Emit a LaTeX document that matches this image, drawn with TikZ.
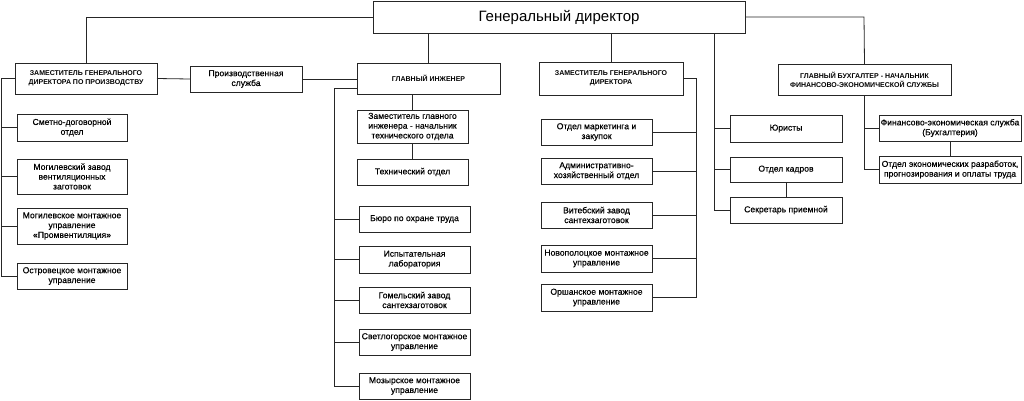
\documentclass[tikz,border=0pt]{standalone}
\usepackage{fontspec}
\setmainfont{Liberation Sans}
\newfontface\semib{Liberation Sans}[FakeBold=0.35]
\usetikzlibrary{calc}
\tikzset{
  every node/.style={inner sep=1pt, outer sep=0pt},
  box/.style={draw=black!85, line width=0.8pt, fill=white, align=center,
    font=\semib\fontsize{8.6}{9.8}\selectfont},
  capbox/.style={box, font=\bfseries\fontsize{7}{9}\selectfont},
  topbox/.style={box, font=\fontsize{15}{17}\selectfont},
  conn/.style={draw=black!85, line width=0.8pt},
}
\begin{document}
\begin{tikzpicture}[x=1pt,y=-1pt]
\useasboundingbox[fill=white] (0,0) rectangle (1024,400);
% top
\node[topbox, minimum width=372, minimum height=32] (GD) at (559,17) {Генеральный директор};
% level 2
\node[capbox, minimum width=142, minimum height=31] (DP) at (86,78.5) {ЗАМЕСТИТЕЛЬ ГЕНЕРАЛЬНОГО\\ДИРЕКТОРА ПО ПРОИЗВОДСТВУ};
\node[box, minimum width=112, minimum height=26] (PS) at (246,79) {Производственная\\служба};
\node[capbox, minimum width=143, minimum height=31] (CE) at (428.5,78.5) {ГЛАВНЫЙ ИНЖЕНЕР};
\node[capbox, minimum width=144, minimum height=33] (DG) at (611,78.5) {ЗАМЕСТИТЕЛЬ ГЕНЕРАЛЬНОГО\\ДИРЕКТОРА};
\node[capbox, minimum width=173, minimum height=31] (CA) at (864.5,79.5) {ГЛАВНЫЙ БУХГАЛТЕР - НАЧАЛЬНИК\\ФИНАНСОВО-ЭКОНОМИЧЕСКОЙ СЛУЖБЫ};
% left column
\node[box, minimum width=110, minimum height=27] (L1) at (72,127.5) {Сметно-договорной\\отдел};
\node[box, minimum width=110, minimum height=35] (L2) at (72,176.5) {Могилевский завод\\вентиляционных\\заготовок};
\node[box, minimum width=110, minimum height=36] (L3) at (72,226) {Могилевское монтажное\\управление\\«Промвентиляция»};
\node[box, minimum width=110, minimum height=26] (L4) at (72,276) {Островецкое монтажное\\управление};
% chief engineer column
\node[box, minimum width=111, minimum height=33] (C1) at (412.5,126.5) {Заместитель главного\\инженера - начальник\\технического отдела};
\node[box, minimum width=111, minimum height=26] (C2) at (412.5,172) {Технический отдел};
\node[box, minimum width=111, minimum height=26] (C3) at (414.5,219) {Бюро по охране труда};
\node[box, minimum width=111, minimum height=27] (C4) at (414.5,259.5) {Испытательная\\лаборатория};
\node[box, minimum width=111, minimum height=26] (C5) at (414.5,300) {Гомельский завод\\сантехзаготовок};
\node[box, minimum width=111, minimum height=26] (C6) at (414.5,342) {Светлогорское монтажное\\управление};
\node[box, minimum width=111, minimum height=26] (C7) at (414.5,386) {Мозырское монтажное\\управление};
% deputy GD column
\node[box, minimum width=111, minimum height=26] (D1) at (596.5,132) {Отдел маркетинга и\\закупок};
\node[box, minimum width=111, minimum height=26] (D2) at (596.5,171) {Административно-\\хозяйственный отдел};
\node[box, minimum width=111, minimum height=26] (D3) at (596.5,215) {Витебский завод\\сантехзаготовок};
\node[box, minimum width=111, minimum height=27] (D4) at (596.5,258.5) {Новополоцкое монтажное\\управление};
\node[box, minimum width=111, minimum height=27] (D5) at (596.5,297.5) {Оршанское монтажное\\управление};
% right group
\node[box, minimum width=112, minimum height=27] (R1) at (786,128.5) {Юристы};
\node[box, minimum width=112, minimum height=25] (R2) at (786,169.5) {Отдел кадров};
\node[box, minimum width=112, minimum height=26] (R3) at (786,210) {Секретарь приемной};
% chief accountant group
\node[box, minimum width=142, minimum height=26] (F1) at (950,128) {Финансово-экономическая служба\\(Бухгалтерия)};
\node[box, minimum width=142, minimum height=27] (F2) at (950,169.5) {Отдел экономических разработок,\\прогнозирования и оплаты труда};
% coordinates
\coordinate (gdL) at (86,17);
\coordinate (gdR) at (864,17);
\coordinate (dpV) at (1,78.5);
\coordinate (ceL) at ($(CE.west)+(0,9.5)$);
\coordinate (ceV) at (334,88);
\coordinate (dgV) at (696,78.5);
\coordinate (rV) at (714,33);
\coordinate (caV) at (864,95);
% connectors from GD
\draw[conn] (GD.west) -- (gdL) -- (DP.north);
\draw[conn] (GD.east) -- (gdR) -- (CA.north);
\draw[conn] (GD.south -| CE.north) -- (CE.north);
\draw[conn] (GD.south -| DG.north) -- (DG.north);
\draw[conn] (rV) |- (R3.west);
\draw[conn] (rV |- R1.west) -- (R1.west);
\draw[conn] (rV |- R2.west) -- (R2.west);
\draw[conn] (R2.south) -- (R3.north);
% deputy production
\draw[conn] (DP.east) -- (PS.west);
\draw[conn] (PS.east) -- (PS.east -| CE.west);
\draw[conn] (DP.west) -- (dpV) |- (L4.west);
\draw[conn] (dpV |- L1.west) -- (L1.west);
\draw[conn] (dpV |- L2.west) -- (L2.west);
\draw[conn] (dpV |- L3.west) -- (L3.west);
% chief engineer
\draw[conn] (CE.south -| C1.north) -- (C1.north);
\draw[conn] (C1.south) -- (C2.north);
\draw[conn] (ceL) -- (ceV) |- (C7.west);
\draw[conn] (ceV |- C3.west) -- (C3.west);
\draw[conn] (ceV |- C4.west) -- (C4.west);
\draw[conn] (ceV |- C5.west) -- (C5.west);
\draw[conn] (ceV |- C6.west) -- (C6.west);
% deputy GD
\draw[conn] (DG.east) -- (dgV) |- (D5.east);
\draw[conn] (dgV |- D1.east) -- (D1.east);
\draw[conn] (dgV |- D2.east) -- (D2.east);
\draw[conn] (dgV |- D3.east) -- (D3.east);
\draw[conn] (dgV |- D4.east) -- (D4.east);
% chief accountant
\draw[conn] (caV) |- (F2.west);
\draw[conn] (caV |- F1.west) -- (F1.west);
\draw[conn] (F1.south) -- (F2.north);
\end{tikzpicture}
\end{document}
